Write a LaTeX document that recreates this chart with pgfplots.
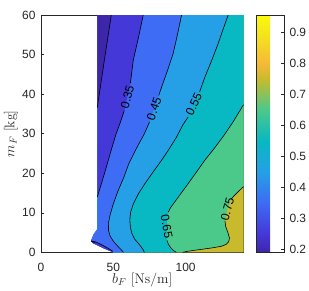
\documentclass[border=0pt]{standalone}
\usepackage{fontspec}
\usepackage{pgfplots}
\pgfplotsset{compat=1.18}
\newfontfamily\arial{Liberation Sans}
\definecolor{axgray}{HTML}{262626}
\definecolor{c0}{HTML}{3E26A8}
\definecolor{c1}{HTML}{4438D8}
\definecolor{c2}{HTML}{3E6CF4}
\definecolor{c3}{HTML}{25A0E6}
\definecolor{c4}{HTML}{08B8C2}
\definecolor{c5}{HTML}{4BC98A}
\definecolor{c6}{HTML}{C8BA2C}
\newcommand{\tickfont}{\arial\fontsize{12}{14}\selectfont}
\begin{document}
\begin{tikzpicture}
\begin{axis}[
  name=main,
  scale only axis,
  width=202.5bp, height=237.3bp,
  xmin=0, xmax=140, ymin=0, ymax=60,
  xtick={0,50,100}, ytick={0,10,20,30,40,50,60},
  tick align=inside,
  major tick length=3bp,
  no markers,
  axis line style={draw=axgray, line width=0.5bp},
  every tick/.style={draw=axgray, line width=0.5bp},
  /pgf/number format/assume math mode=true,
  every tick label/.append style={font=\tickfont, text=axgray},
  xticklabel style={yshift=-7.5bp},
  yticklabel style={xshift=-2bp},
  xlabel={$b_F$ [Ns/m]},
  ylabel={$m_F$ [kg]},
  label style={font=\fontsize{14}{16}\selectfont, text=axgray},
  xlabel style={at={([yshift=-28bp]axis description cs:0.5,0)}, anchor=center},
  ylabel style={at={([xshift=-30bp]axis description cs:0,0.5)}, anchor=center},
  colorbar,
  colormap={parulaish}{rgb255(0cm)=(62,38,168); rgb255(0.6cm)=(68,56,216); rgb255(1.6cm)=(62,108,244); rgb255(2.6cm)=(37,160,230); rgb255(3.6cm)=(8,184,194); rgb255(4.6cm)=(75,201,138); rgb255(5.6cm)=(200,186,44); rgb255(6.1cm)=(245,186,58); rgb255(6.9cm)=(245,222,30); rgb255(7.66cm)=(249,251,14)},
  point meta min=0.19, point meta max=0.956,
  colorbar style={
    width=28bp,
    at={(parent axis.north east)}, anchor=north west, xshift=4bp,
    ytick={0.2,0.3,0.4,0.5,0.6,0.7,0.8,0.9},
    ytick pos=right,
    tick align=inside,
    major tick length=3bp,
    axis line style={draw=axgray, line width=0.5bp},
    every tick/.style={draw=axgray, line width=0.5bp},
    /pgf/number format/assume math mode=true,
    yticklabel style={font=\tickfont, text=axgray, xshift=2bp,
      /pgf/number format/fixed, /pgf/number format/precision=1},
  },
]
% >0.75 region (whole data domain)
\addplot[fill=c6, draw=none] coordinates {(38.9,60) (140,60) (140,0)
  (50,0) (48,0.3) (44,0.9) (40,1.6) (36,2.3) (34.6,2.9) (36.5,4.6) (38.9,5.8)};
% 0.65-0.75
\addplot[fill=c5, draw=none] coordinates {(38.9,60) (140,60) (140,16.6)
  (136.5,15.4) (133.5,14.3) (131.3,13.4) (128.8,10.9) (127.2,7.9) (127.7,6.5) (129.2,5.0) (130.3,3.6) (129.8,2.7) (128,2.0) (124.5,1.5) (118,1.1) (111,0.75) (105,0.45) (100.5,0.2) (98,0)
  (50,0) (48,0.3) (44,0.9) (40,1.6) (36,2.3) (34.6,2.9) (36.5,4.6) (38.9,5.8)};
% 0.55-0.65
\addplot[fill=c4, draw=none] coordinates {(38.9,60) (140,60) (140,37.3)
  (132.5,32.8) (126,29.3) (119,25.9) (113.3,23.3) (107.5,20.3) (101.8,17.4) (97,15) (92.6,12.8) (89.6,11.3) (87.9,10.1) (86.9,6.5) (87.1,3.0) (88,2.1) (89.6,1.2) (91.8,0.4) (93.5,0)
  (50,0) (48,0.3) (44,0.9) (40,1.6) (36,2.3) (34.6,2.9) (36.5,4.6) (38.9,5.8)};
% 0.45-0.55
\addplot[fill=c3, draw=none] coordinates {(38.9,60) (129.4,60)
  (126,56.5) (122.5,52.8) (118,48.5) (113.3,44.3) (109.7,40.6) (105.7,37.4) (101.7,34.2) (98.2,32.3) (93.5,29.0) (88,25.8) (83.4,23.3) (77.5,20.3) (71.9,17.4) (67.5,14.9) (63.9,12.3) (62,10.2) (61.4,8.2) (61.8,6.3) (62.8,4.8) (64.6,3.4) (67.2,2.3) (69.2,1.4) (70.7,0.6) (71.5,0)
  (50,0) (48,0.3) (44,0.9) (40,1.6) (36,2.3) (34.6,2.9) (36.5,4.6) (38.9,5.8)};
% 0.35-0.45
\addplot[fill=c2, draw=none] coordinates {(38.9,60) (97.2,60)
  (94.3,55) (91.4,50.3) (87.5,46) (83.4,41.8) (81.4,39.65) (78.2,36.3) (75.0,32.95) (71.5,30) (66,26.3) (60.8,22.5) (57.3,19) (53,15.3) (49.8,12) (47.8,9.5) (46.6,7.3) (46.7,5.5) (47.8,4.1) (50.2,2.7) (53.2,1.5) (55.6,0.6) (57,0)
  (50,0) (48,0.3) (44,0.9) (40,1.6) (36,2.3) (34.6,2.9) (36.5,4.6) (38.9,5.8)};
% 0.25-0.35
\addplot[fill=c1, draw=none] coordinates {(38.9,60) (70.7,60)
  (67.2,54) (63.8,48.6) (61.8,42.75) (59.7,39.3) (57.6,35.85) (54.8,32.8) (51.8,29.8) (48.5,25.8) (45.2,21.6) (42,17.6) (38.9,14)};
\addplot[fill=c1, draw=none] coordinates {(34.6,2.9) (38,2.6) (42,1.9) (46,1.1) (49.5,0.3) (50,0) (48,0.3) (44,0.9) (40,1.6) (36,2.3)};
% <0.25
\addplot[fill=c0, draw=none] coordinates {(38.9,60) (48.6,60) (43.7,48.3) (38.9,36.6)};
\addplot[fill=c0, draw=none] coordinates {(34.6,2.9) (37.5,2.5) (36,2.3)};
% contour lines
\addplot[black, line width=0.6bp] coordinates {(48.6,60) (43.7,48.3) (38.9,36.6)};
\addplot[black, line width=0.6bp] coordinates {(34.8,2.75) (37.5,2.5)};
\addplot[black, line width=0.6bp] coordinates {(70.7,60) (67.2,54) (63.8,48.6) (61.8,42.75)};
\addplot[black, line width=0.6bp] coordinates {(57.6,35.85) (54.8,32.8) (51.8,29.8) (48.5,25.8) (45.2,21.6) (42,17.6) (38.9,14)};
\addplot[black, line width=0.6bp] coordinates {(34.6,2.9) (38,2.6) (42,1.9) (46,1.1) (49.5,0.3)};
\addplot[black, line width=0.6bp] coordinates {(97.2,60) (94.3,55) (91.4,50.3) (87.5,46) (83.4,41.8) (81.4,39.65)};
\addplot[black, line width=0.6bp] coordinates {(75.0,32.95) (71.5,30) (66,26.3) (60.8,22.5) (57.3,19) (53,15.3) (49.8,12) (47.8,9.5) (46.6,7.3) (46.7,5.5) (47.8,4.1) (50.2,2.7) (53.2,1.5) (55.6,0.6) (57,0)};
\addplot[black, line width=0.6bp] coordinates {(129.4,60) (126,56.5) (122.5,52.8) (118,48.5) (113.3,44.3) (109.7,40.6)};
\addplot[black, line width=0.6bp] coordinates {(101.7,34.2) (98.2,32.3) (93.5,29.0) (88,25.8) (83.4,23.3) (77.5,20.3) (71.9,17.4) (67.5,14.9) (63.9,12.3) (62,10.2) (61.4,8.2) (61.8,6.3) (62.8,4.8) (64.6,3.4) (67.2,2.3) (69.2,1.4) (70.7,0.6) (71.5,0)};
\addplot[black, line width=0.6bp] coordinates {(140,37.3) (132.5,32.8) (126,29.3) (119,25.9) (113.3,23.3) (107.5,20.3) (101.8,17.4) (97,15) (92.6,12.8) (89.6,11.3) (87.9,10.1)};
\addplot[black, line width=0.6bp] coordinates {(87.1,3.0) (88,2.1) (89.6,1.2) (91.8,0.4) (93.5,0)};
\addplot[black, line width=0.6bp] coordinates {(140,16.6) (136.5,15.4) (133.5,14.3) (131.3,13.4)};
\addplot[black, line width=0.6bp] coordinates {(127.2,7.9) (127.7,6.5) (129.2,5.0) (130.3,3.6) (129.8,2.7) (128,2.0) (124.5,1.5) (118,1.1) (111,0.75) (105,0.45) (100.5,0.2) (98,0)};
% contour labels
\node[font=\tickfont, text=black, rotate=75] at (axis cs:59.7,39.3) {0.35};
\node[font=\tickfont, text=black, rotate=71] at (axis cs:78.2,36.3) {0.45};
\node[font=\tickfont, text=black, rotate=65] at (axis cs:105.7,37.4) {0.55};
\node[font=\tickfont, text=black, rotate=-80] at (axis cs:86.9,6.5) {0.65};
\node[font=\tickfont, text=black, rotate=75] at (axis cs:128.8,10.9) {0.75};
\end{axis}
\pgfresetboundingbox
\path[use as bounding box] ([shift={(-41bp,-38.7bp)}]main.south west) rectangle ([shift={(268bp,252.3bp)}]main.south west);
\end{tikzpicture}
\end{document}
